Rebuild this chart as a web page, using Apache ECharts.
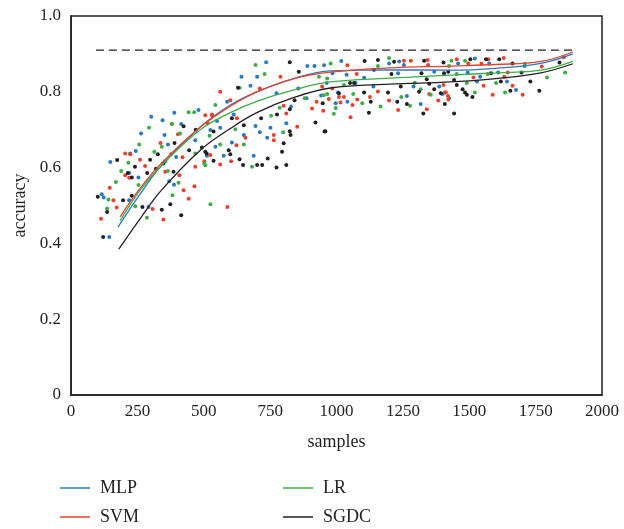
<!DOCTYPE html>
<html>
<head>
<meta charset="utf-8">
<script src="https://cdn.jsdelivr.net/npm/echarts@6/dist/echarts.min.js"></script>
<style>
  html, body { margin: 0; padding: 0; background: #fff; }
  #chart { width: 624px; height: 529px; }
</style>
</head>
<body>
<div id="chart"></div>
<script>
// scatter samples [samples, accuracy]
var mlpPoints = [
  [302,0.734],[389,0.745],[480,0.752],[345,0.725],[415,0.715],[264,0.69],[352,0.686],[365,0.661],
  [244,0.644],[223,0.637],[148,0.615],[396,0.628],[355,0.617],[219,0.586],[254,0.574],[370,0.564],
  [388,0.555],[116,0.53],[123,0.521],[219,0.514],[292,0.496],[144,0.417],[468,0.672],[525,0.699],
  [735,0.878],[642,0.84],[701,0.84],[676,0.816],[774,0.796],[890,0.868],[917,0.868],[856,0.809],
  [588,0.774],[613,0.74],[562,0.705],[550,0.723],[695,0.71],[751,0.705],[711,0.693],[739,0.679],
  [651,0.686],[606,0.666],[544,0.655],[575,0.631],[688,0.631],[512,0.631],[811,0.717],[887,0.783],
  [942,0.79],[829,0.761],
  [953,0.87],[1018,0.881],[1038,0.845],[1072,0.823],[1104,0.837],[1139,0.814],[997,0.77],[1005,0.798],
  [1041,0.774],[1198,0.875],[1236,0.88],[1254,0.871],[1232,0.849],[1290,0.814],[1265,0.789],[1317,0.768],
  [1368,0.853],[1387,0.814],[1408,0.798],[1424,0.783],[963,0.823],[985,0.849],
  [1458,0.875],[1494,0.851],[1521,0.888],[1575,0.875],[1609,0.851],[1529,0.827],[1642,0.827],[1676,0.805],
  [1399,0.794],[1708,0.868],[1541,0.84]
];
var svmPoints = [
  [506,0.738],[531,0.738],[380,0.715],[403,0.688],[337,0.665],[204,0.637],[223,0.635],[260,0.621],
  [279,0.604],[204,0.58],[219,0.573],[355,0.589],[408,0.58],[146,0.547],[160,0.514],[172,0.495],
  [307,0.491],[113,0.465],[348,0.463],[443,0.518],[465,0.551],[424,0.54],[377,0.635],[420,0.627],
  [468,0.602],[589,0.496],
  [562,0.8],[600,0.778],[711,0.809],[789,0.84],[801,0.763],[811,0.743],[531,0.74],[515,0.717],
  [625,0.73],[657,0.679],[764,0.686],[764,0.672],[852,0.708],[908,0.756],[971,0.781],[525,0.633],
  [562,0.608],[603,0.617],[502,0.617],[925,0.774],[623,0.659],
  [1041,0.87],[1076,0.847],[1156,0.801],[1126,0.786],[1198,0.777],[1232,0.752],[1254,0.882],[1280,0.882],
  [1343,0.884],[1345,0.871],[1349,0.794],[1383,0.777],[1340,0.754],[1420,0.789],[984,0.809],[1009,0.786],
  [1028,0.786],[1060,0.765],[1053,0.733],[1015,0.772],[1078,0.78],[946,0.814],[950,0.75],
  [1453,0.886],[1496,0.875],[1546,0.874],[1572,0.886],[1630,0.889],[1645,0.851],[1632,0.84],[1403,0.818],
  [1412,0.798],[1421,0.78],[1516,0.838],[1554,0.816],[1588,0.792],[1663,0.816],[1701,0.792],[1773,0.867],
  [1856,0.891]
];
var lrPoints = [
  [443,0.746],[464,0.746],[380,0.716],[294,0.705],[257,0.661],[314,0.642],[216,0.613],[189,0.591],
  [169,0.562],[254,0.554],[365,0.591],[405,0.56],[141,0.516],[136,0.492],[242,0.498],[286,0.468],
  [382,0.527],[525,0.503],[468,0.637],[506,0.606],[342,0.655],[411,0.69],
  [695,0.871],[729,0.847],[635,0.811],[544,0.765],[522,0.684],[562,0.661],[619,0.701],[754,0.737],
  [786,0.758],[799,0.693],[682,0.602],[502,0.611],[934,0.84],[952,0.791],[651,0.661],[880,0.783],
  [965,0.835],
  [978,0.875],[1156,0.868],[1198,0.889],[1295,0.824],[1317,0.807],[1355,0.792],[1277,0.763],[1244,0.786],
  [1063,0.794],[1097,0.77],[997,0.757],[990,0.742],[965,0.794],[1166,0.761],[1433,0.882],[1028,0.818],
  [1484,0.882],[1424,0.868],[1453,0.847],[1491,0.823],[1521,0.798],[1569,0.847],[1601,0.823],[1635,0.798],
  [1710,0.874],[1793,0.838],[1861,0.851]
];
var sgdcPoints = [
  [174,0.62],[241,0.602],[214,0.586],[229,0.574],[101,0.523],[136,0.483],[196,0.514],[229,0.526],
  [269,0.496],[342,0.489],[374,0.503],[415,0.474],[121,0.417],[327,0.635],[298,0.621],[287,0.586],
  [320,0.597],[348,0.611],[386,0.589],[424,0.709],[390,0.665],[470,0.7],[445,0.646],[493,0.653],
  [511,0.637],[537,0.618],
  [824,0.878],[858,0.853],[629,0.811],[716,0.73],[776,0.74],[824,0.754],[842,0.778],[921,0.719],
  [955,0.695],[827,0.686],[801,0.664],[824,0.696],[795,0.642],[741,0.624],[720,0.607],[701,0.607],
  [635,0.622],[648,0.607],[594,0.646],[600,0.635],[506,0.642],[774,0.6],[811,0.607],[606,0.73],
  [537,0.695],[651,0.712],
  [1106,0.881],[1156,0.884],[1141,0.858],[1217,0.879],[1207,0.847],[1330,0.882],[1320,0.849],[1340,0.833],
  [1349,0.821],[1368,0.807],[1393,0.796],[1405,0.849],[1051,0.823],[1066,0.823],[1009,0.796],[1104,0.798],
  [1129,0.774],[1122,0.745],[1194,0.798],[1229,0.774],[1265,0.768],[1311,0.8],[1327,0.743],[958,0.696],
  [948,0.77],[1242,0.814],
  [1403,0.877],[1421,0.853],[1504,0.886],[1563,0.886],[1613,0.886],[1663,0.875],[1443,0.831],[1453,0.818],
  [1475,0.807],[1484,0.798],[1491,0.792],[1512,0.786],[1582,0.849],[1619,0.827],[1655,0.803],[1697,0.851],
  [1730,0.827],[1764,0.803],[1840,0.877],[1408,0.768],[1443,0.743]
];

// fitted trend lines
var mlpFit = [[177,0.443],[260,0.53],[340,0.605],[487,0.707],[600,0.765],[700,0.80],[840,0.835],[977,0.855],[1200,0.858],[1430,0.857],[1600,0.862],[1770,0.875],[1890,0.90]];
var svmFit = [[185,0.47],[260,0.545],[340,0.611],[487,0.707],[600,0.762],[700,0.80],[840,0.835],[977,0.852],[1200,0.863],[1430,0.868],[1600,0.872],[1770,0.88],[1890,0.905]];
var lrFit = [[185,0.46],[260,0.54],[340,0.605],[487,0.70],[600,0.745],[700,0.775],[840,0.805],[977,0.826],[1200,0.836],[1430,0.844],[1600,0.85],[1770,0.857],[1890,0.88]];
var sgdcFit = [[180,0.385],[260,0.465],[340,0.54],[487,0.646],[600,0.703],[700,0.745],[840,0.785],[977,0.81],[1200,0.82],[1430,0.826],[1600,0.835],[1770,0.85],[1890,0.874]];

var baseline = [[94,0.91],[1890,0.91]];

var names = ['MLP', 'SVM', 'LR', 'SGDC'];
var colors = ['#2a78c4', '#e8412c', '#3cae48', '#231f20'];
var points = [mlpPoints, svmPoints, lrPoints, sgdcPoints];
var fits = [mlpFit, svmFit, lrFit, sgdcFit];

var font = 'Liberation Serif';
var ink = '#231f20';

var chart = echarts.init(document.getElementById('chart'));

var series = [];
names.forEach(function (n, i) {
  series.push({
    name: n,
    type: 'line',
    data: fits[i],
    smooth: 0.4,
    showSymbol: false,
    z: 5,
    lineStyle: { color: colors[i], width: 1.3 },
    itemStyle: { color: colors[i] }
  });
});
names.forEach(function (n, i) {
  series.push({
    name: n,
    type: 'scatter',
    data: points[i],
    symbolSize: 4,
    z: 3,
    itemStyle: { color: colors[i], opacity: 1 }
  });
});
series.push({
  name: 'target',
  type: 'line',
  data: baseline,
  showSymbol: false,
  z: 4,
  lineStyle: { color: ink, width: 1.3, type: [8, 5] }
});

function legendAt(name, left, top) {
  return {
    data: [name],
    left: left,
    top: top,
    icon: 'rect',
    itemWidth: 30,
    itemHeight: 1.5,
    itemGap: 0,
    textStyle: { fontFamily: font, fontSize: 18, color: ink, padding: [0, 0, 0, 5] }
  };
}

chart.setOption({
  animation: false,
  backgroundColor: '#fff',
  grid: { left: 71, top: 16, width: 531, height: 379, show: true, borderColor: ink, borderWidth: 1.5 },
  legend: [
    legendAt('MLP', 55, 474),
    legendAt('LR', 278, 474),
    legendAt('SVM', 55, 503),
    legendAt('SGDC', 278, 503)
  ],
  xAxis: {
    type: 'value',
    min: 0,
    max: 2000,
    interval: 250,
    name: 'samples',
    nameLocation: 'middle',
    nameGap: 38,
    nameTextStyle: { fontFamily: font, fontSize: 18, color: ink },
    splitLine: { show: false },
    axisTick: { show: false },
    axisLine: { lineStyle: { color: ink, width: 1.5 } },
    axisLabel: {
      fontFamily: font, fontSize: 17, color: ink, margin: 8,
      formatter: function (v) { return String(v); }
    }
  },
  yAxis: {
    type: 'value',
    min: 0,
    max: 1,
    interval: 0.2,
    name: 'accuracy',
    nameLocation: 'middle',
    nameGap: 36,
    nameTextStyle: { fontFamily: font, fontSize: 18, color: ink },
    splitLine: { show: false },
    axisTick: { show: false },
    axisLine: { show: true, lineStyle: { color: ink, width: 1.5 } },
    axisLabel: {
      fontFamily: font, fontSize: 17, color: ink, margin: 10,
      formatter: function (v) { return v === 0 ? '0' : v.toFixed(1); }
    }
  },
  series: series
});
</script>
</body>
</html>
